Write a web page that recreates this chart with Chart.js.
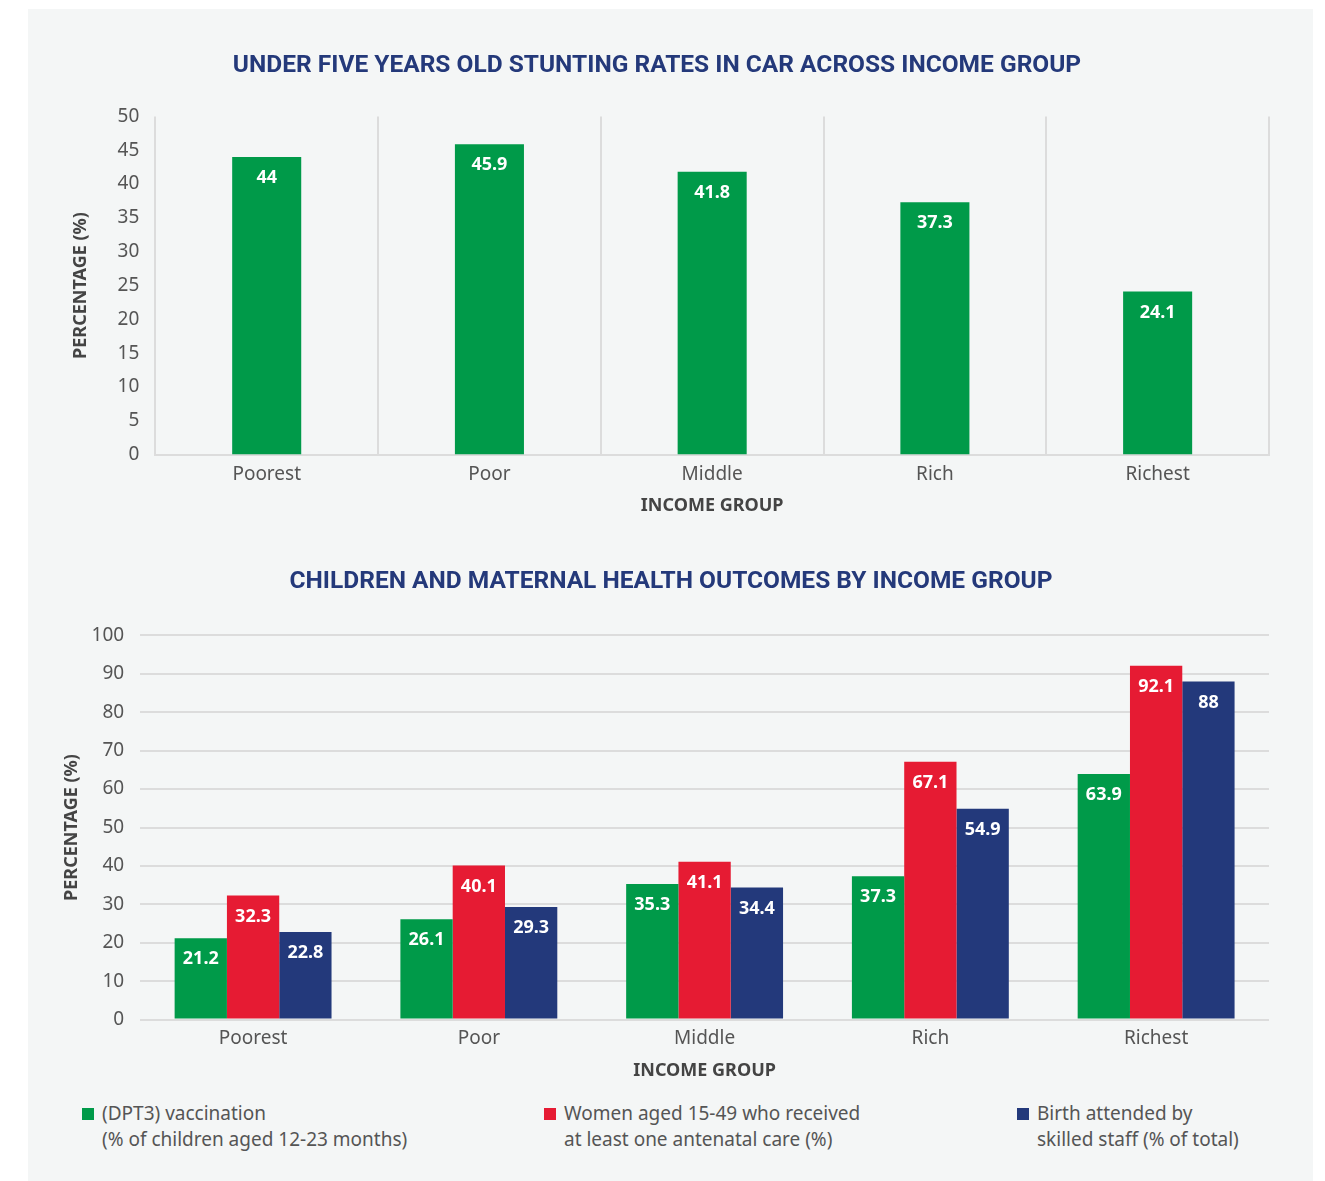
<!DOCTYPE html>
<html>
<head>
    <title>Stunting and health outcomes by income group</title>
    <style>
        body { margin: 0; background: #ffffff; width: 1325px; height: 1181px; position: relative; font-family: "Noto Sans", sans-serif; }
        #panel { position: absolute; left: 28px; top: 9px; width: 1285px; height: 1172px; background: #f4f6f6; }
        #top-chart { position: absolute; left: 0; top: 0; width: 1285px; height: 530px; }
        #bottom-chart { position: absolute; left: 0; top: 540px; width: 1285px; height: 545px; }
        #legend { position: absolute; top: 1091px; left: 0; width: 1285px; height: 60px; }
        .item { position: absolute; top: 0; font-size: 19px; line-height: 26px; color: #555; }
        .item .box { position: absolute; left: -20px; top: 8px; width: 12px; height: 12px; }
    </style>
</head>
<body>
    <div id="panel">
        <div id="top-chart"><canvas id="stuntingChart"></canvas></div>
        <div id="bottom-chart"><canvas id="healthChart"></canvas></div>
        <div id="legend"></div>
    </div>

    <script src="https://cdn.jsdelivr.net/npm/chart.js"></script>
    <script>
        // Data
        const incomeGroups = ['Poorest', 'Poor', 'Middle', 'Rich', 'Richest'];
        const stuntingRates = [44, 45.9, 41.8, 37.3, 24.1];

        const dpt3Vaccination = [21.2, 26.1, 35.3, 37.3, 63.9];
        const antenatalCare = [32.3, 40.1, 41.1, 67.1, 92.1];
        const skilledBirth = [22.8, 29.3, 34.4, 54.9, 88];
        const healthSeriesNames = [
            ['(DPT3) vaccination', '(% of children aged 12-23 months)'],
            ['Women aged 15-49 who received', 'at least one antenatal care (%)'],
            ['Birth attended by', 'skilled staff (% of total)']
        ];

        const green = '#009a49';
        const red = '#e61b33';
        const navy = '#23397b';
        const titleColor = '#24397a';
        const textColor = '#555555';
        const gridColor = '#dcdcdc';
        const fontFamily = '"Noto Sans", sans-serif';

        // Draws the value inside the top of each bar
        const barValueLabels = {
            id: 'barValueLabels',
            afterDatasetsDraw(chart) {
                const ctx = chart.ctx;
                ctx.save();
                ctx.fillStyle = '#ffffff';
                ctx.font = 'bold 18px ' + fontFamily;
                ctx.textAlign = 'center';
                ctx.textBaseline = 'middle';
                chart.data.datasets.forEach((ds, i) => {
                    chart.getDatasetMeta(i).data.forEach((bar, j) => {
                        ctx.fillText(String(ds.data[j]), bar.x, bar.y + 21);
                    });
                });
                ctx.restore();
            }
        };

        const tickFont = { family: fontFamily, size: 19 };
        const axisTitleFont = { family: fontFamily, size: 18, weight: 'bold' };
        const chartTitleFont = { family: 'Roboto, sans-serif', size: 24.5, weight: 'bold' };

        // Top chart: stunting rates
        new Chart(document.getElementById('stuntingChart'), {
            type: 'bar',
            data: {
                labels: incomeGroups,
                datasets: [{
                    label: 'Stunting rate',
                    data: stuntingRates,
                    backgroundColor: green,
                    barPercentage: 0.31,
                    categoryPercentage: 1
                }]
            },
            options: {
                responsive: true,
                maintainAspectRatio: false,
                animation: false,
                layout: { padding: { left: 17, right: 44, top: 20, bottom: 18 } },
                plugins: {
                    legend: { display: false },
                    tooltip: { enabled: false },
                    title: {
                        display: true,
                        text: 'UNDER FIVE YEARS OLD STUNTING RATES IN CAR ACROSS INCOME GROUP',
                        color: titleColor,
                        font: chartTitleFont,
                        padding: { top: 22, bottom: 36 }
                    }
                },
                scales: {
                    x: {
                        grid: { display: true, color: gridColor, lineWidth: 2, drawTicks: false, offset: true },
                        border: { display: true, color: gridColor, width: 2 },
                        ticks: { color: textColor, font: tickFont, padding: 9 },
                        title: { display: true, text: 'INCOME GROUP', color: '#444', font: axisTitleFont, padding: { top: 0 } }
                    },
                    y: {
                        min: 0,
                        max: 50,
                        grid: { display: false, drawTicks: false },
                        border: { display: false },
                        ticks: { stepSize: 5, color: textColor, font: tickFont, padding: 16 },
                        title: { display: true, text: 'PERCENTAGE (%)', color: '#444', font: axisTitleFont, padding: { top: 25, bottom: 10 } }
                    }
                }
            },
            plugins: [barValueLabels]
        });

        // Bottom chart: children and maternal health outcomes
        const seriesValues = [dpt3Vaccination, antenatalCare, skilledBirth];
        const seriesColors = [green, red, navy];

        new Chart(document.getElementById('healthChart'), {
            type: 'bar',
            data: {
                labels: incomeGroups,
                datasets: seriesValues.map((vals, i) => ({
                    label: healthSeriesNames[i].join(' '),
                    data: vals,
                    backgroundColor: seriesColors[i],
                    barPercentage: 1,
                    categoryPercentage: 0.695
                }))
            },
            options: {
                responsive: true,
                maintainAspectRatio: false,
                animation: false,
                layout: { padding: { left: 45, right: 44, top: 0, bottom: 8 } },
                plugins: {
                    legend: { display: false },
                    tooltip: { enabled: false },
                    title: {
                        display: true,
                        text: 'CHILDREN AND MATERNAL HEALTH OUTCOMES BY INCOME GROUP',
                        color: titleColor,
                        font: chartTitleFont,
                        padding: { top: 18, bottom: 39 }
                    }
                },
                scales: {
                    x: {
                        grid: { display: false, drawTicks: false },
                        border: { display: false },
                        ticks: { color: textColor, font: tickFont, padding: 8 },
                        title: { display: true, text: 'INCOME GROUP', color: '#444', font: axisTitleFont, padding: { top: 2 } }
                    },
                    y: {
                        min: 0,
                        max: 100,
                        grid: { color: gridColor, lineWidth: 2, drawTicks: false },
                        border: { display: false },
                        ticks: { stepSize: 10, color: textColor, font: tickFont, padding: 16 },
                        title: { display: true, text: 'PERCENTAGE (%)', color: '#444', font: axisTitleFont, padding: { top: -12, bottom: -7 } }
                    }
                }
            },
            plugins: [barValueLabels]
        });

        // Legend as plain text under the bottom chart
        const legendLefts = [74, 536, 1009];
        const legendEl = document.getElementById('legend');
        healthSeriesNames.forEach((lines, i) => {
            const item = document.createElement('div');
            item.className = 'item';
            item.style.left = legendLefts[i] + 'px';
            const box = document.createElement('span');
            box.className = 'box';
            box.style.background = seriesColors[i];
            item.appendChild(box);
            lines.forEach((line, k) => {
                if (k > 0) item.appendChild(document.createElement('br'));
                item.appendChild(document.createTextNode(line));
            });
            legendEl.appendChild(item);
        });
    </script>
</body>
</html>
